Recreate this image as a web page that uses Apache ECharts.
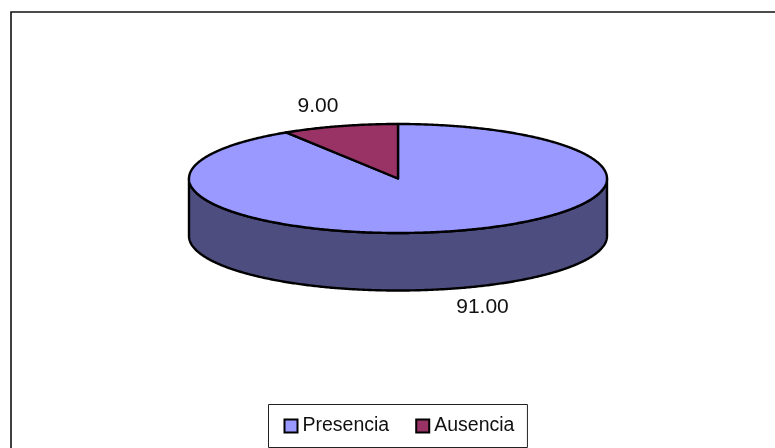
<!DOCTYPE html>
<html><head><meta charset="utf-8">
<style>html,body{margin:0;padding:0;background:#fff}#c{width:775px;height:448px}</style>
<script src="https://cdn.jsdelivr.net/npm/echarts@6/dist/echarts.min.js"></script>
</head><body><div id="c"></div>
<script>
const categories = ['Presencia', 'Ausencia'];
const values = [91, 9];
const valueLabels = ['91.00', '9.00'];
const topColors = ['#9999FF', '#993366'];
const sideColor = '#4D4D80';

const cx = 398, cy = 178.5, rx = 209, ry = 54.5, depth = 57.5;
const total = values.reduce((a, b) => a + b, 0);
const labelPos = [[482.5, 307], [318, 106]];

function pt(frac, dy) {
  const a = frac * 2 * Math.PI;
  return [cx + rx * Math.sin(a), cy - ry * Math.cos(a) + (dy || 0)];
}
function arc(f0, f1, dy) {
  const out = [], n = Math.max(2, Math.ceil((f1 - f0) * 720));
  for (let i = 0; i <= n; i++) out.push(pt(f0 + (f1 - f0) * i / n, dy));
  return out;
}
const stroke = { stroke: '#000', lineWidth: 2.4, lineJoin: 'round' };

function sliceItem(idx) {
  return function () {
    const f0 = values.slice(0, idx).reduce((a, b) => a + b, 0) / total;
    const f1 = f0 + values[idx] / total;
    const children = [];
    const s0 = Math.max(f0, 0.25), s1 = Math.min(f1, 0.75);
    if (s1 > s0) {
      const pts = arc(s0, s1, 0).concat(arc(s0, s1, depth).reverse());
      children.push({ type: 'polygon', shape: { points: pts },
        style: Object.assign({ fill: sideColor }, stroke) });
    }
    children.push({ type: 'polygon',
      shape: { points: [[cx, cy]].concat(arc(f0, f1, 0)) },
      style: Object.assign({ fill: topColors[idx] }, stroke) });
    children.push({ type: 'text', style: {
      text: valueLabels[idx], x: labelPos[idx][0], y: labelPos[idx][1],
      align: 'center', verticalAlign: 'middle',
      font: '21px "Liberation Sans", Arial, sans-serif', fill: '#111' } });
    return { type: 'group', children };
  };
}

const chart = echarts.init(document.getElementById('c'), null, { renderer: 'canvas' });
chart.setOption({
  animation: false,
  backgroundColor: '#fff',
  legend: {
    left: 268.5, top: 404.5,
    padding: [9, 13, 9, 15],
    orient: 'horizontal',
    backgroundColor: '#fff', borderColor: '#222', borderWidth: 1,
    itemWidth: 13, itemHeight: 13, itemGap: 26,
    icon: 'rect',
    textStyle: { fontFamily: 'Liberation Sans', fontSize: 19.5, lineHeight: 23, color: '#111', padding: [2, 0, 0, 0] },
    data: categories.map((name, i) => ({ name,
      itemStyle: { color: topColors[i], borderColor: '#000', borderWidth: 2 } }))
  },
  graphic: [{ type: 'polyline', silent: true,
    shape: { points: [[11, 448], [11, 12], [775, 12]] },
    style: { stroke: '#111', lineWidth: 1.6, fill: null } }],
  series: categories.map((name, i) => ({
    type: 'custom', name, coordinateSystem: 'none', silent: true,
    itemStyle: { color: topColors[i] },
    data: [values[i]], renderItem: sliceItem(i)
  }))
});
</script></body></html>
